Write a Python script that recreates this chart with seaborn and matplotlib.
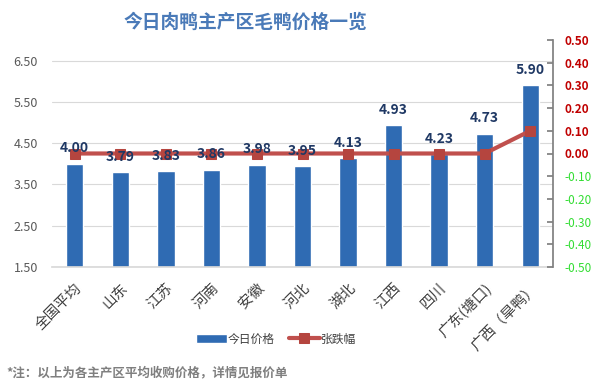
import numpy as np
import pandas as pd
import matplotlib
matplotlib.use("Agg")
import matplotlib.pyplot as plt
import seaborn as sns

categories = ["全国平均", "山东", "江苏", "河南", "安徽", "河北", "湖北", "江西", "四川", "广东(塘口)", "广西（旱鸭）"]
prices = [4.00, 3.79, 3.83, 3.86, 3.98, 3.95, 4.13, 4.93, 4.23, 4.73, 5.90]
changes = [0.00, 0.00, 0.00, 0.00, 0.00, 0.00, 0.00, 0.00, 0.00, 0.00, 0.10]
left_ticks = [1.5, 2.5, 3.5, 4.5, 5.5, 6.5]
right_ticks = [-0.5, -0.4, -0.3, -0.2, -0.1, 0.0, 0.1, 0.2, 0.3, 0.4, 0.5]

sns.set_theme(style="white")
plt.rcParams['font.family'] = ['Noto Sans CJK SC', 'DejaVu Sans']

df = pd.DataFrame({"地区": categories, "今日价格": prices, "张跌幅": changes})

fig = plt.figure(figsize=(5.93, 3.91), dpi=100)
ax = fig.add_axes([52/593, 1 - 267/391, (553-52)/593, (267-40)/391])

bar_color = "#2f6bb3"
sns.barplot(data=df, x="地区", y="今日价格", color=bar_color, width=0.38,
            saturation=1, ax=ax, label="今日价格")
if ax.get_legend() is not None:
    ax.get_legend().remove()
ax.set_ylim(1.5, 7.0)
ax.set_yticks(left_ticks)
ax.set_yticklabels([f"{t:.2f}" for t in left_ticks], color="#595959", fontsize=9)
ax.set_xlabel("")
ax.set_ylabel("")
ax.yaxis.grid(True, color="#d9d9d9", linewidth=0.8)
ax.set_axisbelow(True)
for s in ["top", "right", "left"]:
    ax.spines[s].set_visible(False)
ax.spines["bottom"].set_color("#d9d9d9")
ax.tick_params(axis="y", length=0, pad=10)
ax.tick_params(axis="x", length=0, pad=10)
ax.set_xticks(range(len(categories)))
ax.set_xticklabels(categories, rotation=45, ha="right", rotation_mode="anchor",
                   fontsize=10.5, color="#404040")
ax.set_xlim(-0.5, len(categories) - 0.5)

ax2 = ax.twinx()
line_color = "#c0504d"
sns.lineplot(x=np.arange(len(categories)), y=changes, ax=ax2, color=line_color,
             linewidth=3, marker="s", markersize=7, markeredgecolor="#b5453f",
             markerfacecolor="#b5453f", label="张跌幅", legend=False)
ax2.set_ylim(-0.5, 0.5)
ax2.set_yticks(right_ticks)
ax2.set_yticklabels([f"{t:.2f}" for t in right_ticks], fontsize=8.5)
for lbl, t in zip(ax2.get_yticklabels(), right_ticks):
    lbl.set_color("#c00000" if t >= -1e-9 else "#33dd33")
    lbl.set_fontweight("bold" if t >= -1e-9 else "normal")
for s in ["top", "left", "bottom"]:
    ax2.spines[s].set_visible(False)
ax2.spines["right"].set_color("#808080")
ax2.tick_params(axis="y", direction="in", length=4, color="#808080", pad=8)
ax2.set_ylabel("")
if ax2.get_legend() is not None:
    ax2.get_legend().remove()

for i, v in enumerate(prices):
    ax2.annotate(f"{v:.2f}", (i, v), xycoords=ax.transData, xytext=(0, 6),
                 textcoords="offset points", ha="center", va="bottom",
                 fontsize=10, fontweight="bold", color="#1f3864", zorder=5)

fig.text(245/593, 1 - 22/391, "今日肉鸭主产区毛鸭价格一览", ha="center", va="center",
         fontsize=13.5, fontweight="bold", color="#4a7ab8")

h1, l1 = ax.get_legend_handles_labels()
h2, l2 = ax2.get_legend_handles_labels()
fig.legend(h1 + h2, l1 + l2, loc="center", bbox_to_anchor=(276/593, 1 - 339/391),
           ncol=2, frameon=False, fontsize=8.5, handlelength=2.6, columnspacing=1.2,
           handletextpad=0.1, labelcolor="#404040")

fig.text(6/593, 1 - 373/391, "*注：以上为各主产区平均收购价格，详情见报价单", ha="left",
         va="center", fontsize=9, fontweight="bold", color="#7f7f7f")

fig.savefig("out.png", dpi=100)
